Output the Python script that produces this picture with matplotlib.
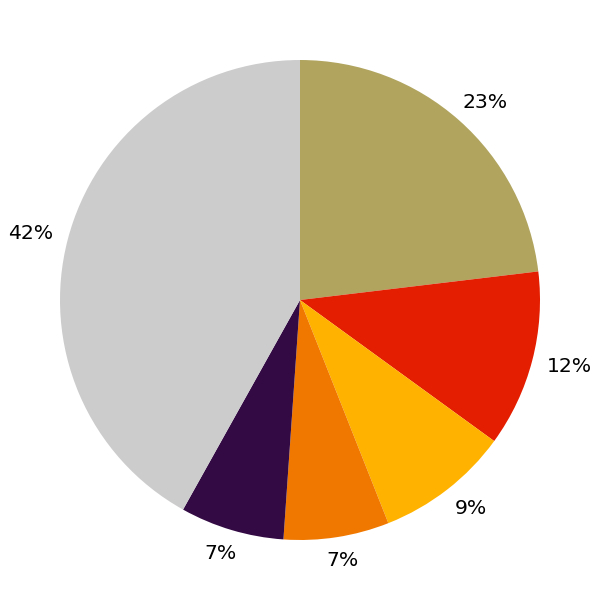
import matplotlib
matplotlib.use("Agg")
import matplotlib.pyplot as plt
import numpy as np

categories = ["A", "B", "C", "D", "E", "F"]
values = [23.1, 11.9, 9.0, 7.1, 7.0, 41.9]
colors = ["#B0A45F", "#E41E00", "#FFB300", "#F07800", "#330A44", "#CCCCCC"]
pct_labels = [f"{v:.0f}%" for v in values]

fig = plt.figure(figsize=(6, 6), dpi=100)
ax = fig.add_axes([0.1, 0.1, 0.8, 0.8])
wedges, _ = ax.pie(
    values, colors=colors, startangle=90, counterclock=False,
)
for w, lab in zip(wedges, pct_labels):
    ang = np.deg2rad((w.theta1 + w.theta2) / 2)
    ax.text(1.16 * np.cos(ang), 1.10 * np.sin(ang), lab,
            ha="center", va="center", fontsize=14.7, color="black")
ax.set_aspect("equal")
ax.set_xlim(-1, 1)
ax.set_ylim(-1, 1)
fig.savefig("out.png", dpi=100)
